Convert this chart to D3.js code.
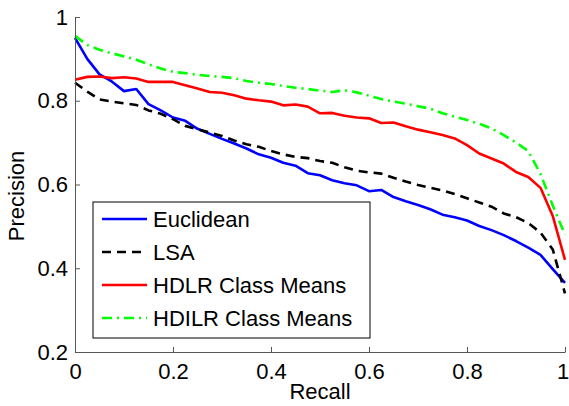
<!DOCTYPE html>
<html>
<head>
<meta charset="utf-8">
<script src="https://cdn.jsdelivr.net/npm/d3@7"></script>
<style>
  body { margin: 0; background: #fff; }
  svg { display: block; font-family: "Liberation Sans", Arial, sans-serif; }
</style>
</head>
<body>
<div id="grafico"></div>
<script>
const recall = [0, 0.025, 0.05, 0.075, 0.1, 0.125, 0.15, 0.175, 0.2, 0.225, 0.25, 0.275, 0.3, 0.325, 0.35, 0.375,
  0.4, 0.425, 0.45, 0.475, 0.5, 0.525, 0.55, 0.575, 0.6, 0.625, 0.65, 0.675, 0.7, 0.725, 0.75, 0.775,
  0.8, 0.825, 0.85, 0.875, 0.9, 0.925, 0.95, 0.975, 1];

const euclidean = [0.950, 0.900, 0.863, 0.846, 0.823, 0.828, 0.792, 0.777, 0.760, 0.752, 0.733, 0.721, 0.709, 0.698, 0.686, 0.672,
  0.664, 0.652, 0.645, 0.627, 0.622, 0.610, 0.603, 0.598, 0.584, 0.587, 0.570, 0.560, 0.551, 0.541, 0.528, 0.522,
  0.514, 0.501, 0.491, 0.479, 0.465, 0.449, 0.432, 0.398, 0.365];

const lsa = [0.843, 0.822, 0.803, 0.798, 0.794, 0.790, 0.777, 0.769, 0.756, 0.740, 0.732, 0.724, 0.716, 0.705, 0.696, 0.690,
  0.680, 0.672, 0.666, 0.663, 0.656, 0.652, 0.641, 0.633, 0.629, 0.626, 0.616, 0.607, 0.599, 0.592, 0.586, 0.577,
  0.567, 0.557, 0.547, 0.531, 0.522, 0.508, 0.485, 0.445, 0.340];

const hdlr = [0.850, 0.857, 0.858, 0.854, 0.856, 0.853, 0.845, 0.845, 0.845, 0.837, 0.829, 0.821, 0.819, 0.813, 0.805, 0.801,
  0.798, 0.789, 0.791, 0.786, 0.770, 0.771, 0.764, 0.760, 0.758, 0.747, 0.748, 0.739, 0.731, 0.725, 0.718, 0.710,
  0.694, 0.674, 0.662, 0.650, 0.630, 0.618, 0.592, 0.525, 0.420];

const hdilr = [0.955, 0.933, 0.922, 0.913, 0.906, 0.898, 0.887, 0.877, 0.869, 0.866, 0.862, 0.859, 0.857, 0.854, 0.847, 0.843,
  0.840, 0.835, 0.831, 0.828, 0.824, 0.821, 0.825, 0.820, 0.812, 0.804, 0.798, 0.793, 0.787, 0.781, 0.770, 0.762,
  0.754, 0.745, 0.734, 0.718, 0.700, 0.680, 0.625, 0.550, 0.480];

const seriesNames = ["Euclidean", "LSA", "HDLR Class Means", "HDILR Class Means"];
const xTicks = [0, 0.2, 0.4, 0.6, 0.8, 1];
const yTicks = [0.2, 0.4, 0.6, 0.8, 1];

const series = [
  { name: seriesNames[0], values: euclidean, color: "#0000ff", dash: null },
  { name: seriesNames[1], values: lsa, color: "#000000", dash: "9,6" },
  { name: seriesNames[2], values: hdlr, color: "#ff0000", dash: null },
  { name: seriesNames[3], values: hdilr, color: "#00ff00", dash: "10,5,2,5" }
];

const W = 569, H = 406;
const margin = { top: 17, right: 4, bottom: 54, left: 75 };
const width = W - margin.left - margin.right;
const height = H - margin.top - margin.bottom;

const svg = d3.select("#grafico")
  .append("svg")
  .attr("width", W)
  .attr("height", H);

const g = svg.append("g")
  .attr("transform", `translate(${margin.left}, ${margin.top})`);

const x = d3.scaleLinear().domain([0, 1]).range([0, width]);
const y = d3.scaleLinear().domain([0.2, 1]).range([height, 0]);

// lines
const line = d3.line()
  .x((d, i) => x(recall[i]))
  .y(d => y(d));

series.forEach(s => {
  g.append("path")
    .datum(s.values)
    .attr("fill", "none")
    .attr("stroke", s.color)
    .attr("stroke-width", 2.6)
    .attr("stroke-linejoin", "round")
    .attr("stroke-dasharray", s.dash)
    .attr("d", line);
});

// axes, ticks pointing inward
const xAxis = g.append("g")
  .attr("transform", `translate(0, ${height})`)
  .call(d3.axisBottom(x)
    .tickValues(xTicks)
    .tickFormat(d3.format("~g"))
    .tickSizeInner(-5)
    .tickSizeOuter(0)
    .tickPadding(11));

const yAxis = g.append("g")
  .call(d3.axisLeft(y)
    .tickValues(yTicks)
    .tickFormat(d3.format("~g"))
    .tickSizeInner(-5)
    .tickSizeOuter(0)
    .tickPadding(7));

[xAxis, yAxis].forEach(ax => {
  ax.select(".domain").attr("stroke", "#555");
  ax.selectAll(".tick line").attr("stroke", "#555");
  ax.selectAll(".tick text")
    .attr("fill", "#000")
    .attr("font-size", "22px")
    .attr("font-family", "Liberation Sans, Arial, sans-serif");
});

// last x label sits at the page edge, nudge it in a bit
xAxis.selectAll(".tick text").filter(d => d === 1).attr("dx", "-2.5");

// axis titles
svg.append("text")
  .attr("x", margin.left + width / 2)
  .attr("y", 399)
  .attr("text-anchor", "middle")
  .attr("font-size", "22px")
  .text("Recall");

svg.append("text")
  .attr("transform", "translate(24, 196) rotate(-90)")
  .attr("text-anchor", "middle")
  .attr("font-size", "22px")
  .text("Precision");

// legend
const legend = svg.append("g").attr("transform", "translate(93, 202)");

legend.append("rect")
  .attr("width", 277)
  .attr("height", 136)
  .attr("fill", "#fff")
  .attr("stroke", "#000")
  .attr("stroke-width", 1);

series.forEach((s, i) => {
  const ly = 17 + i * 33;
  legend.append("line")
    .attr("x1", 9)
    .attr("x2", 54)
    .attr("y1", ly)
    .attr("y2", ly)
    .attr("stroke", s.color)
    .attr("stroke-width", 2.6)
    .attr("stroke-dasharray", s.dash);
  legend.append("text")
    .attr("x", 60)
    .attr("y", ly)
    .attr("dy", "0.35em")
    .attr("font-size", "22px")
    .text(s.name);
});
</script>
</body>
</html>
